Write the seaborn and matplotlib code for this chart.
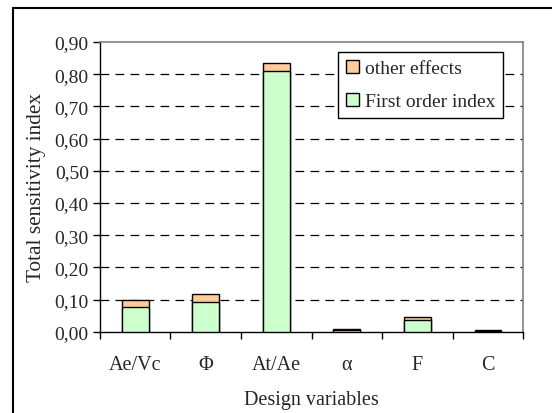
import matplotlib
matplotlib.use("Agg")
import matplotlib.pyplot as plt
import seaborn as sns
import pandas as pd
import numpy as np
from matplotlib.patches import Patch
from matplotlib.lines import Line2D
from matplotlib.ticker import FuncFormatter

categories = ["Ae/Vc", "Φ", "At/Ae", "α", "F", "C"]
first_order = [0.076, 0.094, 0.810, 0.007, 0.036, 0.004]
other_effects = [0.024, 0.024, 0.025, 0.003, 0.011, 0.001]
yticks = [0.0, 0.1, 0.2, 0.3, 0.4, 0.5, 0.6, 0.7, 0.8, 0.9]

total = [f + o for f, o in zip(first_order, other_effects)]
df = pd.DataFrame({"var": categories, "first": first_order, "total": total})

sns.set_style("white")
plt.rcParams["font.family"] = ["Liberation Serif", "DejaVu Serif"]
plt.rcParams["font.size"] = 14

fig = plt.figure(figsize=(5.52, 4.14), dpi=100)
ax = fig.add_axes([0.181, 0.196, 0.767, 0.700])

orange = "#FFCC99"
green = "#CCFFCC"
sns.barplot(data=df, x="var", y="total", color=orange, width=0.38,
            edgecolor="black", linewidth=1.0, saturation=1, ax=ax, zorder=3)
sns.barplot(data=df, x="var", y="first", color=green, width=0.38,
            edgecolor="black", linewidth=1.0, saturation=1, ax=ax, zorder=4)

ax.set_xlim(-0.5, len(categories) - 0.5)
ax.set_ylim(0, 0.9)
ax.set_yticks(yticks)
ax.yaxis.set_major_formatter(FuncFormatter(lambda v, p: f"{v:.2f}".replace(".", ",")))
for v in yticks[1:-1]:
    ax.axhline(v, color="black", lw=0.9, ls=(0, (7, 5)), zorder=1)

ax.set_xticks(range(len(categories)))
ax.set_xticklabels(categories)
ax.set_xticks(np.arange(-0.5, len(categories), 1.0), minor=True)
ax.tick_params(axis="x", which="major", length=0, pad=17, labelsize=14.5)
ax.tick_params(axis="x", which="minor", length=5, width=1, direction="out", color="black")
ax.tick_params(axis="y", which="major", length=5, width=1, direction="out", color="black", pad=3, labelsize=14)
ax.tick_params(bottom=True, left=True, which="both")
ax.tick_params(axis="x", which="major", bottom=False)

for s in ["left", "bottom"]:
    ax.spines[s].set_color("black")
    ax.spines[s].set_linewidth(1.0)
for s in ["top", "right"]:
    ax.spines[s].set_color("#808080")
    ax.spines[s].set_linewidth(1.2)

ax.set_xlabel("Design variables", fontsize=14.5, labelpad=11)
ax.set_ylabel("Total sensitivity index", fontsize=15.3, labelpad=6)

handles = [Patch(facecolor=orange, edgecolor="black", label="other effects"),
           Patch(facecolor=green, edgecolor="black", label="First order index")]
leg = ax.legend(handles=handles, loc="upper right", bbox_to_anchor=(0.953, 0.966),
                frameon=True, fancybox=False, framealpha=1, edgecolor="black",
                fontsize=14, handlelength=0.7, handleheight=0.7, handletextpad=0.3,
                borderpad=0.4, labelspacing=0.8, borderaxespad=0)
leg.get_frame().set_linewidth(1.0)
leg.set_zorder(10)

fig.add_artist(Line2D([13 / 552, 13 / 552], [0, 1 - 9 / 414], transform=fig.transFigure, color="black", lw=1.5))
fig.add_artist(Line2D([13 / 552, 1], [1 - 9 / 414, 1 - 9 / 414], transform=fig.transFigure, color="black", lw=1.5))

fig.savefig("out.png", dpi=100)
